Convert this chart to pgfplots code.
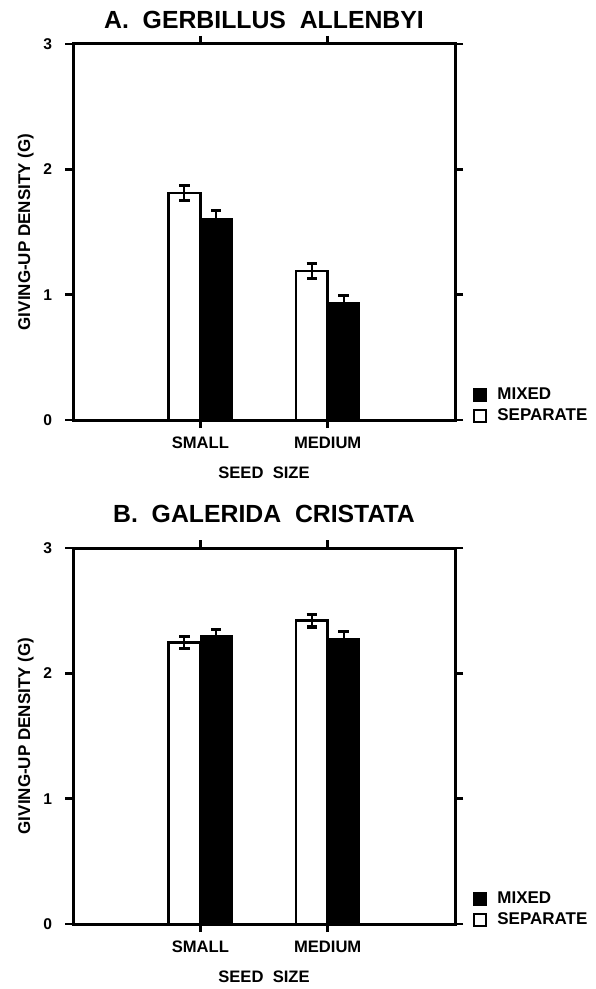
\documentclass[border=0pt]{standalone}
\usepackage{fontspec}
\setmainfont{Liberation Sans}
\usepackage{pgfplots}
\pgfplotsset{compat=1.18}
\pgfplotsset{
  gudstyle/.style={
    scale only axis, width=191pt, height=188pt,
    xmin=0, xmax=3, ymin=0, ymax=3,
    xtick={1,2}, xticklabels={SMALL,MEDIUM},
    ytick={0,1,2,3},
    tick align=outside, major tick length=4pt,
    axis line style={line width=1.5pt},
    every tick/.style={black, line width=1.3pt},
    /pgf/number format/assume math mode=true,
    yticklabel style={font=\bfseries\fontsize{7.8}{8}\selectfont, xshift=-3pt},
    xticklabel style={font=\bfseries\fontsize{8.3}{9}\selectfont, yshift=-1pt},
    xlabel={SEED~~SIZE},
    xlabel style={font=\bfseries\fontsize{8.3}{9}\selectfont, yshift=-2pt},
    ylabel={GIVING-UP DENSITY (G)},
    ylabel style={font=\bfseries\fontsize{8.5}{9}\selectfont, yshift=-2pt},
    ybar, bar width=0.25, /pgf/bar shift=0pt,
    title style={font=\bfseries\fontsize{12.4}{14}\selectfont, at={(0.5,1)}, anchor=base},
    legend image code/.code={\draw[#1, line width=1pt] (0pt,-3pt) rectangle (6pt,3pt);},
    reverse legend,
    legend cell align=left,
    legend style={draw=none, fill=none, at={(1,0)}, anchor=south west, xshift=6pt, yshift=-6pt,
      font=\bfseries\fontsize{8.5}{9}\selectfont, row sep=-1pt,
      nodes={inner xsep=5pt}},
    error bars/y dir=both, error bars/y explicit,
    error bars/error bar style={line width=1pt, black},
    error bars/error mark options={rotate=90, mark size=2.6pt, line width=1.6pt, black},
  },
  sepbar/.style={draw=black, fill=white, line width=1.3pt},
  mixbar/.style={draw=black, fill=black, line width=0.5pt},
}
\begin{document}
\begin{tikzpicture}
\useasboundingbox (0,0) rectangle (297.5pt,-494.5pt);
% Panel A
\begin{axis}[gudstyle, at={(36.5pt,-22pt)}, anchor=north west,
  title={A.~~GERBILLUS~~ALLENBYI}, title style={yshift=1.5pt}]
\addplot[sepbar] coordinates {(0.875,1.81) +- (0,0.06) (1.875,1.19) +- (0,0.06)};
\addlegendentry{SEPARATE}
\addplot[mixbar] coordinates {(1.125,1.61) +- (0,0.06) (2.125,0.935) +- (0,0.056)};
\addlegendentry{MIXED}
\end{axis}
% Panel B
\begin{axis}[gudstyle, at={(36.5pt,-274pt)}, anchor=north west,
  title={B.~~GALERIDA~~CRISTATA}, title style={yshift=7pt}]
\addplot[sepbar] coordinates {(0.875,2.245) +- (0,0.05) (1.875,2.42) +- (0,0.05)};
\addlegendentry{SEPARATE}
\addplot[mixbar] coordinates {(1.125,2.30) +- (0,0.047) (2.125,2.28) +- (0,0.056)};
\addlegendentry{MIXED}
\end{axis}
\end{tikzpicture}
\end{document}
